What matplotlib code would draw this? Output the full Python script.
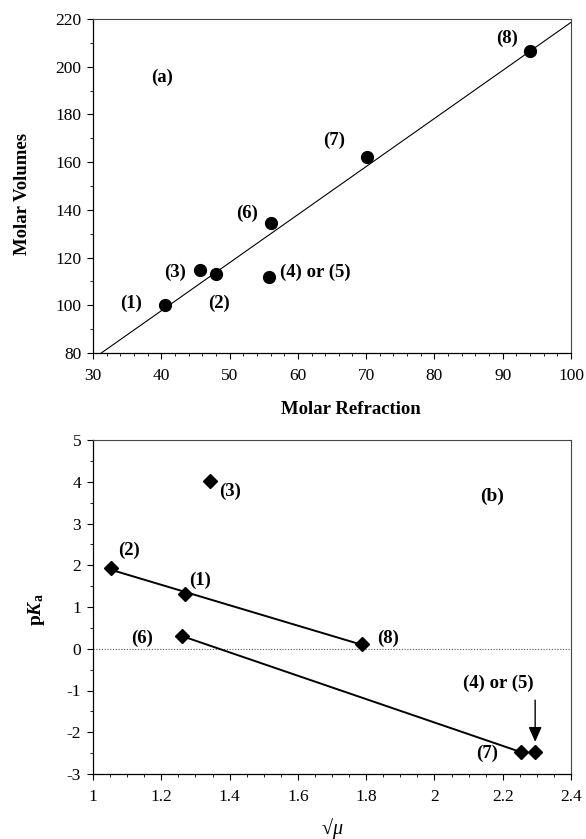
import numpy as np
import matplotlib
matplotlib.use("Agg")
import matplotlib.pyplot as plt
from matplotlib.ticker import MultipleLocator, FuncFormatter

# ---------------- data ----------------
compounds = ["(1)", "(2)", "(3)", "(4) or (5)", "(6)", "(7)", "(8)"]

# panel (a)
molar_refraction = [40.5, 48.0, 45.7, 55.8, 56.0, 70.1, 94.0]
molar_volume = [100.0, 113.2, 114.6, 111.8, 134.5, 162.0, 206.6]
fit_slope = 2.015
fit_intercept = 17.1

# panel (b)
sqrt_mu = [1.268, 1.053, 1.343, 2.295, 1.262, 2.255, 1.788]
pka = [1.31, 1.93, 4.02, -2.48, 0.30, -2.48, 0.11]
line_groups = [["(2)", "(1)", "(8)"], ["(6)", "(7)"]]

# label positions (annotation placement)
labels_a = {"(1)": (35.6, 101), "(2)": (48.4, 101), "(3)": (42.0, 113.8),
            "(4) or (5)": (62.6, 113.8), "(6)": (52.6, 138.4),
            "(7)": (65.3, 169), "(8)": (90.6, 211.8)}
labels_b = {"(1)": (1.315, 1.63), "(2)": (1.104, 2.35), "(3)": (1.40, 3.77),
            "(4) or (5)": (2.186, -0.82), "(6)": (1.145, 0.25),
            "(7)": (2.154, -2.50), "(8)": (1.865, 0.25)}

# ---------------- style ----------------
plt.rcParams["font.family"] = ["Liberation Serif", "DejaVu Serif"]
plt.rcParams["mathtext.fontset"] = "custom"
plt.rcParams["mathtext.rm"] = "Liberation Serif"
plt.rcParams["mathtext.it"] = "Liberation Serif:italic"
plt.rcParams["mathtext.bf"] = "Liberation Serif:bold"
try:
    plt.rcParams["mathtext.bfit"] = "Liberation Serif:bold:italic"
    has_bfit = True
except Exception:
    has_bfit = False

TICK_FS = 12.5
LAB_FS = 13.5

fig = plt.figure(figsize=(5.86, 8.39), dpi=100)
ax1 = fig.add_axes([93 / 586, 1 - 353 / 839, 478 / 586, 334 / 839])
ax2 = fig.add_axes([93 / 586, 1 - 774 / 839, 478 / 586, 334 / 839])


def style_axes(ax):
    for side in ["left", "bottom"]:
        ax.spines[side].set_linewidth(0.9)
        ax.spines[side].set_color("black")
    for side in ["top", "right"]:
        ax.spines[side].set_linewidth(0.8)
        ax.spines[side].set_color("#444444")
    ax.tick_params(which="major", direction="out", length=4.5, width=0.8,
                   labelsize=TICK_FS, top=False, right=False)
    ax.tick_params(which="minor", direction="out", length=2.2, width=0.6,
                   top=False, right=False)
    ax.tick_params(axis="y", pad=4)
    ax.tick_params(axis="x", pad=6)


# ---------------- panel (a) ----------------
style_axes(ax1)
xx = np.array([30.0, 100.0])
ax1.plot(xx, fit_slope * xx + fit_intercept, color="black", lw=0.8, zorder=2)
ax1.plot(molar_refraction, molar_volume, "o", color="black", ms=8.5,
         zorder=3, linestyle="none")
for c in compounds:
    x, y = labels_a[c]
    ax1.text(x, y, c, ha="center", va="center", fontsize=LAB_FS,
             fontweight="bold")
ax1.text(40.1, 195.5, "(a)", ha="center", va="center", fontsize=LAB_FS,
         fontweight="bold")
ax1.set_xlim(30, 100)
ax1.set_ylim(80, 220)
ax1.xaxis.set_major_locator(MultipleLocator(10))
ax1.xaxis.set_minor_locator(MultipleLocator(2))
ax1.yaxis.set_major_locator(MultipleLocator(20))
ax1.yaxis.set_minor_locator(MultipleLocator(10))
ax1.set_xlabel("Molar Refraction", fontsize=LAB_FS, fontweight="bold",
               va="center")
ax1.set_ylabel("Molar Volumes", fontsize=LAB_FS, fontweight="bold",
               va="center")
ax1.xaxis.set_label_coords(0.54, -0.168)
ax1.yaxis.set_label_coords(-0.147, 0.475)

# ---------------- panel (b) ----------------
style_axes(ax2)
ax2.axhline(0, color="#555555", lw=0.8, linestyle=(0, (1, 1.5)), zorder=1)
idx = {c: i for i, c in enumerate(compounds)}
for grp in line_groups:
    gx = np.array([sqrt_mu[idx[c]] for c in grp])
    gy = np.array([pka[idx[c]] for c in grp])
    k, b = np.polyfit(gx, gy, 1)
    lx = np.array([gx.min(), gx.max()])
    ax2.plot(lx, k * lx + b, color="black", lw=1.4, zorder=2)
ax2.plot(sqrt_mu, pka, "D", color="black", ms=7, zorder=3,
         linestyle="none")
for c in compounds:
    x, y = labels_b[c]
    ax2.text(x, y, c, ha="center", va="center", fontsize=LAB_FS,
             fontweight="bold")
ax2.text(2.17, 3.65, "(b)", ha="center", va="center", fontsize=LAB_FS + 0.5,
         fontweight="bold")
i45 = idx["(4) or (5)"]
ax2.annotate("", xy=(sqrt_mu[i45], pka[i45] + 0.25),
             xytext=(sqrt_mu[i45], -1.23),
             arrowprops=dict(arrowstyle="-|>,head_length=0.9,head_width=0.4",
                             color="black", lw=1.0, shrinkA=0, shrinkB=0))
ax2.set_xlim(1, 2.4)
ax2.set_ylim(-3, 5)
ax2.xaxis.set_major_locator(MultipleLocator(0.2))
ax2.xaxis.set_minor_locator(MultipleLocator(0.05))
ax2.yaxis.set_major_locator(MultipleLocator(1))
ax2.yaxis.set_minor_locator(MultipleLocator(0.5))
ax2.xaxis.set_major_formatter(FuncFormatter(lambda v, p: f"{v:g}"))
ax2.yaxis.set_major_formatter(FuncFormatter(lambda v, p: f"{v:g}"))
ax2.set_xlabel("√$\\mathit{\\mu}$", fontsize=LAB_FS + 1, va="center")
if has_bfit:
    ylab = r"$\mathbf{p}\mathbfit{K}_{\mathbf{a}}$"
else:
    ylab = r"p$K_{\rm a}$"
ax2.set_ylabel(ylab, fontsize=LAB_FS + 0.5, va="center")
ax2.xaxis.set_label_coords(0.50, -0.162)
ax2.yaxis.set_label_coords(-0.119, 0.491)

fig.savefig("out.png", dpi=100)
